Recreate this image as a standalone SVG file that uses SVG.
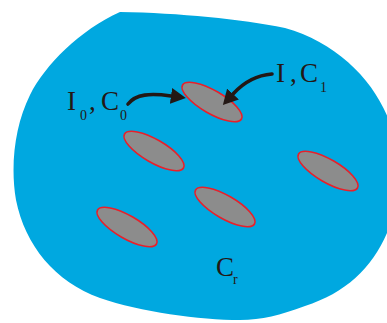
<svg xmlns="http://www.w3.org/2000/svg" width="387" height="323" viewBox="0 0 387 323">
<style>
.inc{fill:#8c8c8c;stroke:#e8202a;stroke-width:1.6}
.lbl{font-family:"Liberation Serif","Times New Roman",serif;fill:#231815}
.big{font-size:27px}
.sub{font-size:14px}
.arr{fill:none;stroke:#231815;stroke-width:3.6;stroke-linecap:round}
</style>
<defs>
<marker id="ah" viewBox="0 -8 15 16" refX="0" refY="0" markerWidth="15" markerHeight="16" markerUnits="userSpaceOnUse" orient="auto">
<path d="M0,-8 L15,0 L0,8 z" fill="#231815"/>
</marker>
</defs>
<rect width="387" height="323" fill="#ffffff"/>
<g id="matrix">
<path d="M120,12 C180,13 240,19 285,28 C335,42 372,78 388,118 L392,118 L392,220 C378,262 350,292 305,306 C280,315 262,320 240,320 C200,320 140,312 100,298 C55,282 25,245 16,200 C10,165 15,125 30,95 C45,65 80,30 120,12 Z" fill="#00a8e0"/>
</g>
<g id="inc1"><ellipse class="inc" cx="212" cy="102" rx="34" ry="11.5" transform="rotate(30 212 102)"/></g>
<g id="inc2"><ellipse class="inc" cx="154" cy="151" rx="34" ry="11.5" transform="rotate(30 154 151)"/></g>
<g id="inc3"><ellipse class="inc" cx="328" cy="171" rx="34" ry="11.5" transform="rotate(30 328 171)"/></g>
<g id="inc4"><ellipse class="inc" cx="225" cy="207" rx="34" ry="11.5" transform="rotate(30 225 207)"/></g>
<g id="inc5"><ellipse class="inc" cx="127" cy="227" rx="34" ry="11.5" transform="rotate(30 127 227)"/></g>
<g id="connectors">
<path class="arr" d="M128,104 C136,94 150,93 171,96" marker-end="url(#ah)"/>
<path class="arr" d="M272,74 C258,75 244,82 233,94" marker-end="url(#ah)"/>
</g>
<g id="label-left">
<text class="lbl big" x="67" y="110">I</text><text class="lbl sub" x="80" y="120">0</text>
<text class="lbl big" x="89" y="110">,</text>
<text class="lbl big" x="101" y="110">C</text><text class="lbl sub" x="120" y="120">0</text>
</g>
<g id="label-right">
<text class="lbl big" x="276" y="82">I</text>
<text class="lbl big" x="290" y="82">,</text>
<text class="lbl big" x="300" y="82">C</text><text class="lbl sub" x="320" y="92">1</text>
</g>
<g id="label-matrix">
<text class="lbl big" x="216" y="276">C</text><text class="lbl sub" x="233" y="284">r</text>
</g>
</svg>
